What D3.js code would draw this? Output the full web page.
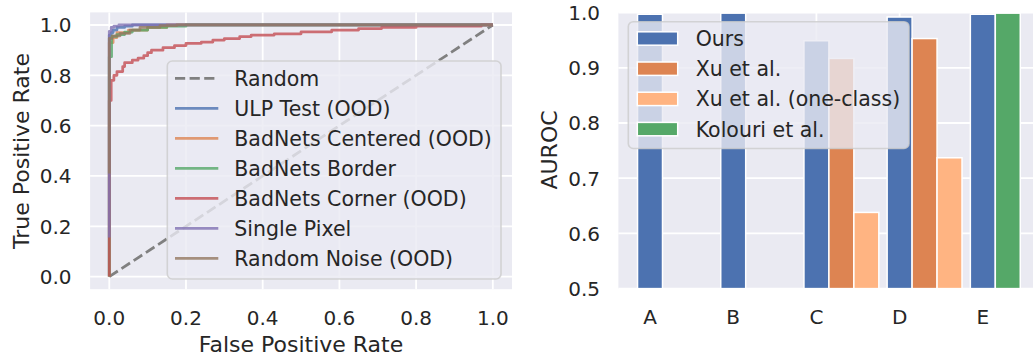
<!DOCTYPE html>
<html><head><meta charset="utf-8">
<script src="https://cdn.jsdelivr.net/npm/d3@7"></script>
<style>body{margin:0;background:#fff}svg{display:block;font-family:"DejaVu Sans",sans-serif}</style>
</head><body><svg id="c" width="1033" height="356"></svg>
<script>
// ---------- ROC data (left panel) ----------
const rocNames = ["ULP Test (OOD)","BadNets Centered (OOD)","BadNets Border","BadNets Corner (OOD)","Single Pixel","Random Noise (OOD)"];
const rocColors = ["#4C72B0","#DD8452","#55A868","#C44E52","#8172B3","#937860"];
const ulpFpr = [0, 0, 0.005, 0.01, 0.02, 0.04, 0.06, 1.0];
const ulpTpr = [0, 0.96, 0.97, 0.98, 0.99, 0.995, 1.0, 1.0];
const centeredFpr = [0, 0, 0.01, 0.02, 0.05, 0.1, 0.15, 1.0];
const centeredTpr = [0, 0.93, 0.95, 0.97, 0.98, 0.99, 1.0, 1.0];
const borderFpr = [0, 0, 0.006, 0.02, 0.04, 0.06, 0.1, 0.15, 0.2, 1.0];
const borderTpr = [0, 0.874, 0.955, 0.962, 0.972, 0.98, 0.99, 0.995, 1.0, 1.0];
const cornerFpr = [0, 0, 0.005, 0.012, 0.02, 0.035, 0.04, 0.06, 0.075, 0.09, 0.1, 0.11, 0.14, 0.17, 0.2, 0.24, 0.27, 0.3, 0.34, 0.37, 0.43, 0.5, 0.58, 0.65, 0.71, 0.8, 0.97, 1.0];
const cornerTpr = [0, 0.70, 0.78, 0.80, 0.815, 0.835, 0.85, 0.86, 0.868, 0.878, 0.89, 0.9, 0.91, 0.918, 0.927, 0.932, 0.94, 0.946, 0.954, 0.96, 0.965, 0.973, 0.98, 0.986, 0.99, 0.995, 1.0, 1.0];
const pixelFpr = [0, 0, 0.005, 0.012, 0.025, 1.0];
const pixelTpr = [0.155, 0.975, 0.99, 0.995, 1.0, 1.0];
const noiseFpr = [0, 0, 0.008, 0.028, 0.054, 0.08, 0.132, 0.176, 1.0];
const noiseTpr = [0.41, 0.947, 0.957, 0.967, 0.98, 0.99, 0.997, 1.0, 1.0];
const rocFpr = [ulpFpr, centeredFpr, borderFpr, cornerFpr, pixelFpr, noiseFpr];
const rocTpr = [ulpTpr, centeredTpr, borderTpr, cornerTpr, pixelTpr, noiseTpr];
const rateTicks = [0, 0.2, 0.4, 0.6, 0.8, 1.0];

// ---------- AUROC data (right panel) ----------
const groups = ["A","B","C","D","E"];
const methods = ["Ours","Xu et al.","Xu et al. (one-class)","Kolouri et al."];
const methodColors = ["#4C72B0","#DD8452","#FFB482","#55A868"];
const oursAuroc = [0.997, 0.999, 0.949, 0.992, 0.997];
const xuAuroc = [null, null, 0.917, 0.953, null];
const xuOneClassAuroc = [null, null, 0.638, 0.737, null];
const kolouriAuroc = [null, null, null, null, 0.999];
const aurocSeries = [oursAuroc, xuAuroc, xuOneClassAuroc, kolouriAuroc];
const aurocTicks = [0.5, 0.6, 0.7, 0.8, 0.9, 1.0];

const svg = d3.select("#c");
const txt = "#262626", bg = "#EAEAF2";
const tickFs = 20, labFs = 22, legFs = 20.5;

// ===== Left panel =====
const xL = d3.scaleLinear().domain([-0.05, 1.05]).range([90.1, 512]);
const yL = d3.scaleLinear().domain([-0.05, 1.05]).range([289.2, 12.4]);
const gL = svg.append("g");
gL.append("rect").attr("x", 90.1).attr("y", 12.4).attr("width", 512-90.1).attr("height", 289.2-12.4).attr("fill", bg);
svg.append("clipPath").attr("id","clipL").append("rect").attr("x", 90.1).attr("y", 12.4).attr("width", 512-90.1).attr("height", 289.2-12.4);
gL.selectAll(".gx").data(rateTicks).join("line").attr("x1", d=>xL(d)).attr("x2", d=>xL(d)).attr("y1", 12.4).attr("y2", 289.2).attr("stroke","#fff").attr("stroke-width",1.8);
gL.selectAll(".gy").data(rateTicks).join("line").attr("y1", d=>yL(d)).attr("y2", d=>yL(d)).attr("x1", 90.1).attr("x2", 512).attr("stroke","#fff").attr("stroke-width",1.8);
const plotL = gL.append("g").attr("clip-path","url(#clipL)");
plotL.append("line").attr("x1", xL(0)).attr("y1", yL(0)).attr("x2", xL(1)).attr("y2", yL(1))
  .attr("stroke","#808080").attr("stroke-width",2.75).attr("stroke-dasharray","10.2,4.4");
const rocLine = d3.line().x(d=>xL(d[0])).y(d=>yL(d[1])).curve(d3.curveStepAfter);
rocNames.forEach((n,i)=>{
  const pts = rocFpr[i].map((f,j)=>[f, rocTpr[i][j]]);
  plotL.append("path").attr("d", rocLine(pts)).attr("fill","none").attr("stroke", rocColors[i])
    .attr("stroke-width",2.75).attr("stroke-opacity",0.8).attr("stroke-linejoin","round");
});
// ticks
gL.selectAll(".tx").data(rateTicks).join("text").attr("x", d=>xL(d)).attr("y", 324.5).attr("text-anchor","middle")
  .attr("font-size", tickFs).attr("fill", txt).text(d=>d.toFixed(1));
gL.selectAll(".ty").data(rateTicks).join("text").attr("x", 71.5).attr("y", d=>yL(d)+7.3).attr("text-anchor","end")
  .attr("font-size", tickFs).attr("fill", txt).text(d=>d.toFixed(1));
gL.append("text").attr("x", 301).attr("y", 352.3).attr("text-anchor","middle").attr("font-size", labFs).attr("fill", txt).text("False Positive Rate");
gL.append("text").attr("transform","translate(28.8,151) rotate(-90)").attr("text-anchor","middle").attr("font-size", labFs).attr("fill", txt).text("True Positive Rate");
// legend
const legL = gL.append("g");
legL.append("rect").attr("x",167.3).attr("y",61).attr("width",333.7).attr("height",218).attr("rx",5)
  .attr("fill",bg).attr("fill-opacity",0.8).attr("stroke","#cccccc").attr("stroke-opacity",0.8).attr("stroke-width",1.6);
const legNamesL = ["Random"].concat(rocNames);
legNamesL.forEach((n,i)=>{
  const cy = 78.3 + 30*i;
  const ln = legL.append("line").attr("x1",175).attr("x2",218.3).attr("y1",cy).attr("y2",cy).attr("stroke-width",2.75);
  if(i===0) ln.attr("stroke","#808080").attr("stroke-dasharray","10.2,4.4");
  else ln.attr("stroke", rocColors[i-1]).attr("stroke-opacity",0.8);
  legL.append("text").attr("x",234.3).attr("y",cy+7.5).attr("font-size",legFs).attr("fill",txt).text(n);
});

// ===== Right panel =====
const xR = d3.scaleLinear().domain([-0.38, 4.68]).range([618.4, 1039.4]);
const yR = d3.scaleLinear().domain([0.5, 1.0]).range([288.6, 12.6]);
const gR = svg.append("g");
gR.append("rect").attr("x",618.4).attr("y",12.6).attr("width",1040-618.4).attr("height",288.6-12.6).attr("fill",bg);
gR.selectAll(".gy").data(aurocTicks).join("line").attr("y1", d=>yR(d)).attr("y2", d=>yR(d)).attr("x1",618.4).attr("x2",1040).attr("stroke","#fff").attr("stroke-width",1.8);
gR.selectAll(".gx").data(groups).join("line").attr("x1",(d,i)=>xR(i)).attr("x2",(d,i)=>xR(i)).attr("y1",12.6).attr("y2",288.6).attr("stroke","#fff").attr("stroke-width",1.8);
const barW = 0.3;
groups.forEach((g,i)=>{
  let k = 0;
  aurocSeries.forEach((s,m)=>{
    const v = s[i];
    if(v==null) return;
    const c = i + barW*k; k++;
    gR.append("rect").attr("x", xR(c-barW/2)).attr("width", xR(c+barW/2)-xR(c-barW/2))
      .attr("y", yR(v)).attr("height", yR(0.5)-yR(v)).attr("fill", methodColors[m]).attr("stroke","#fff").attr("stroke-width",1.5);
  });
});
gR.selectAll(".tx").data(groups).join("text").attr("x",(d,i)=>xR(i)).attr("y",323.5).attr("text-anchor","middle")
  .attr("font-size",tickFs).attr("fill",txt).text(d=>d);
gR.selectAll(".ty").data(aurocTicks).join("text").attr("x",600).attr("y",d=>yR(d)+7.3).attr("text-anchor","end")
  .attr("font-size",tickFs).attr("fill",txt).text(d=>d.toFixed(1));
gR.append("text").attr("transform","translate(556.5,150) rotate(-90)").attr("text-anchor","middle").attr("font-size",labFs).attr("fill",txt).text("AUROC");
const legR = gR.append("g");
legR.append("rect").attr("x",628.3).attr("y",21.7).attr("width",280.7).attr("height",126.8).attr("rx",5)
  .attr("fill",bg).attr("fill-opacity",0.8).attr("stroke","#cccccc").attr("stroke-opacity",0.8).attr("stroke-width",1.6);
methods.forEach((n,i)=>{
  const cy = 38.5 + 30.2*i;
  legR.append("rect").attr("x",637.3).attr("y",cy-6.7).attr("width",40.4).attr("height",13.4).attr("fill",methodColors[i]).attr("stroke","#fff").attr("stroke-width",1.5);
  legR.append("text").attr("x",695.7).attr("y",cy+7.4).attr("font-size",legFs).attr("fill",txt).text(n);
});
</script></body></html>
